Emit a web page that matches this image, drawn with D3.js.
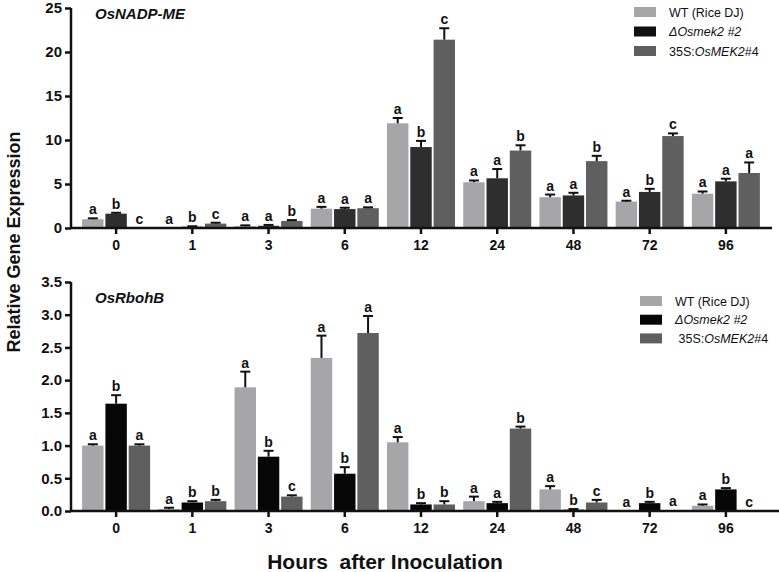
<!DOCTYPE html>
<html><head><meta charset="utf-8">
<script src="https://cdn.jsdelivr.net/npm/d3@7"></script>
<style>body{margin:0;background:#fff}svg{display:block}</style>
</head><body>
<svg id="chart" width="779" height="572"></svg>
<script>
const categories = ["0","1","3","6","12","24","48","72","96"];
const seriesNames = ["WT (Rice DJ)","ΔOsmek2 #2","35S:OsMEK2#4"];

// OsNADP-ME
const nadpWT    = [1.0, 0.0, 0.2, 2.2, 11.9, 5.2, 3.5, 3.0, 3.9];
const nadpMek2  = [1.63, 0.15, 0.25, 2.15, 9.2, 5.65, 3.7, 4.1, 5.3];
const nadp35S   = [0.0, 0.5, 0.8, 2.25, 21.4, 8.8, 7.6, 10.45, 6.25];
const nadpWTErr   = [0.1, 0.0, 0.1, 0.2, 0.6, 0.2, 0.3, 0.1, 0.25];
const nadpMek2Err = [0.1, 0.05, 0.1, 0.15, 0.7, 1.05, 0.3, 0.35, 0.3];
const nadp35SErr  = [0.0, 0.1, 0.1, 0.1, 1.3, 0.6, 0.6, 0.3, 1.2];
const nadpWTLet   = ["a","a","a","a","a","a","a","a","a"];
const nadpMek2Let = ["b","b","a","a","b","a","a","b","a"];
const nadp35SLet  = ["c","c","b","a","c","b","b","c","a"];
const nadpTicks = [0,5,10,15,20,25];

// OsRbohB
const rbohWT    = [1.0, 0.03, 1.89, 2.34, 1.05, 0.15, 0.33, 0.0, 0.08];
const rbohMek2  = [1.64, 0.13, 0.83, 0.57, 0.1, 0.12, 0.02, 0.12, 0.33];
const rboh35S   = [1.0, 0.15, 0.22, 2.72, 0.1, 1.26, 0.13, 0.01, 0.0];
const rbohWTErr   = [0.02, 0.02, 0.24, 0.34, 0.08, 0.07, 0.05, 0.0, 0.02];
const rbohMek2Err = [0.13, 0.02, 0.09, 0.1, 0.02, 0.02, 0.01, 0.02, 0.02];
const rboh35SErr  = [0.02, 0.02, 0.02, 0.26, 0.05, 0.03, 0.04, 0.0, 0.0];
const rbohWTLet   = ["a","a","a","a","a","a","a","a","a"];
const rbohMek2Let = ["b","b","b","b","b","a","b","b","b"];
const rboh35SLet  = ["a","b","c","a","b","b","c","a","c"];
const rbohTicks = [0,0.5,1,1.5,2,2.5,3,3.5];

const colors = ["#a6a6a8","#2e2e2e","#5f5f5f"];
const colorsBottom = ["#a6a6a8","#060606","#5f5f5f"];

const svg = d3.select("#chart");
const FONT = "'Liberation Sans', Arial, sans-serif";

function panel(opt){
  const g = svg.append("g");
  const x = d3.scaleBand().domain(categories).range([78,764]).padding(0);
  const xi = d3.scaleBand().domain([0,1,2]).range([-34,34]).paddingInner(0.08);
  const y = d3.scaleLinear().domain([0, opt.ymax]).range([opt.y0, opt.y1]);
  const vals = opt.values, errs = opt.errs, lets = opt.lets;
  categories.forEach((c,i)=>{
    const cx = x(c) + x.bandwidth()/2;
    for(let s=0;s<3;s++){
      const v = vals[s][i], e = errs[s][i];
      const bx = cx + xi(s);
      const bw = xi.bandwidth();
      if (v > 0) {
        g.append("rect").attr("x", bx).attr("y", y(v)).attr("width", bw)
          .attr("height", y(0)-y(v)).attr("fill", opt.colors[s]);
      }
      let top = y(v);
      if (e > 0 && v > 0) {
        const ty = y(v+e);
        g.append("line").attr("x1", bx+bw/2).attr("x2", bx+bw/2).attr("y1", y(v)).attr("y2", ty)
          .attr("stroke","#111").attr("stroke-width",2);
        g.append("line").attr("x1", bx+bw/2-5).attr("x2", bx+bw/2+5).attr("y1", ty).attr("y2", ty)
          .attr("stroke","#111").attr("stroke-width",2);
        top = ty;
      }
      g.append("text").attr("x", bx+bw/2).attr("y", top-4)
        .attr("text-anchor","middle").attr("font-family",FONT).attr("font-weight","bold")
        .attr("font-size","14px").attr("fill","#111").text(lets[s][i]);
    }
  });
  // y axis
  const ya = d3.axisLeft(y).tickValues(opt.ticks).tickSize(6).tickPadding(3)
    .tickFormat(opt.fmt);
  const yg = g.append("g").attr("transform","translate(71,0)").call(ya);
  yg.select(".domain").attr("stroke","#111").attr("stroke-width",2.5).attr("d", `M0,${opt.y1}V${opt.y0}`);
  yg.selectAll(".tick line").attr("stroke","#111").attr("stroke-width",2.5);
  yg.selectAll(".tick text").attr("font-family",FONT).attr("font-weight","bold").attr("font-size","15px").attr("fill","#111");
  // x axis
  const xa = d3.axisBottom(x).tickSize(6).tickPadding(6);
  const xg = g.append("g").attr("transform",`translate(0,${opt.y0})`).call(xa);
  xg.select(".domain").attr("stroke","#111").attr("stroke-width",2.5).attr("d", `M70,0H${opt.xEnd}`);
  xg.selectAll(".tick line").attr("stroke","#111").attr("stroke-width",2.5);
  xg.selectAll(".tick text").attr("font-family",FONT).attr("font-weight","bold").attr("font-size","14px").attr("fill","#111");
  // title
  g.append("text").attr("x",95).attr("y",opt.titleY).attr("font-family",FONT).attr("font-weight","bold")
    .attr("font-style","italic").attr("font-size","15px").attr("fill","#111").text(opt.title);
  // legend
  const lg = g.append("g").attr("transform",`translate(${opt.legX},${opt.legY})`);
  const parts = [
    [{t:"WT (Rice DJ)",i:false}],
    [{t:"ΔOsmek2",i:true},{t:" #2",i:false,ib:true}],
    [{t:opt.leadSpace?" 35S:":"35S:",i:false},{t:"OsMEK2",i:true},{t:"#4",i:false}]
  ];
  parts.forEach((p,k)=>{
    lg.append("rect").attr("x",0).attr("y",k*opt.legStep-5).attr("width",22).attr("height",10).attr("fill",opt.legColors[k]);
    const t = lg.append("text").attr("x",35).attr("y",k*opt.legStep+4.5).attr("font-family",FONT)
      .attr("font-size","12.5px").attr("fill","#111").attr("xml:space","preserve");
    p.forEach(q=>{
      t.append("tspan").attr("font-style", (q.i||q.ib)?"italic":"normal").text(q.t);
    });
  });
}

panel({values:[nadpWT,nadpMek2,nadp35S], errs:[nadpWTErr,nadpMek2Err,nadp35SErr],
  lets:[nadpWTLet,nadpMek2Let,nadp35SLet], ymax:25, y0:228, y1:8, ticks:nadpTicks,
  fmt:d3.format("d"), colors:colors, xEnd:772, title:"OsNADP-ME", titleY:19,
  legX:634, legY:12, legStep:19.5, legColors:["#a6a6a8","#111","#5f5f5f"], leadSpace:false});

panel({values:[rbohWT,rbohMek2,rboh35S], errs:[rbohWTErr,rbohMek2Err,rboh35SErr],
  lets:[rbohWTLet,rbohMek2Let,rboh35SLet], ymax:3.5, y0:511, y1:282, ticks:rbohTicks,
  fmt:d3.format(".1f"), colors:colorsBottom, xEnd:779, title:"OsRbohB", titleY:303,
  legX:640, legY:301, legStep:18.7, legColors:["#a6a6a8","#060606","#5f5f5f"], leadSpace:true});

// axis titles
svg.append("text").attr("transform","translate(20,242) rotate(-90)").attr("text-anchor","middle")
  .attr("font-family",FONT).attr("font-weight","bold").attr("font-size","18px").attr("fill","#111")
  .text("Relative Gene Expression");
svg.append("text").attr("x",385).attr("y",569).attr("text-anchor","middle")
  .attr("font-family",FONT).attr("font-weight","bold")
  .attr("font-size","21px").attr("fill","#111").attr("xml:space","preserve")
  .text("Hours  after Inoculation");
</script>
</body></html>
